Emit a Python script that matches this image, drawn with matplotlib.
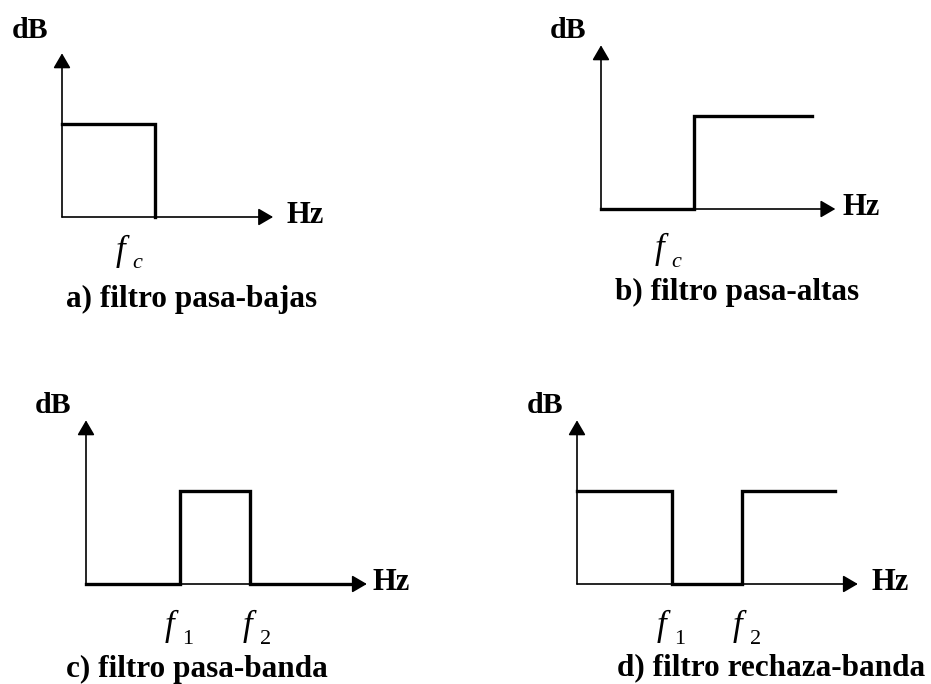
import matplotlib.pyplot as plt

plt.rcParams["font.family"] = "Liberation Serif"

# Respuestas ideales (frecuencia normalizada, ganancia normalizada)
freq_a = [0, 1.0, 1.0]
gain_a = [1, 1, 0]
freq_b = [0, 1.0, 1.0, 2.27]
gain_b = [0, 0, 1, 1]
freq_c = [0, 1.01, 1.01, 1.76, 1.76, 2.86]
gain_c = [0, 0, 1, 1, 0, 0]
freq_d = [0, 1.02, 1.02, 1.77, 1.77, 2.77]
gain_d = [1, 1, 0, 0, 1, 1]

titles = ["a) filtro pasa-bajas", "b) filtro pasa-altas",
          "c) filtro pasa-banda", "d) filtro rechaza-banda"]
subscripts = [["c"], ["c"], ["1", "2"], ["1", "2"]]

W, H = 931, 684
U = 93  # px por unidad
fig = plt.figure(figsize=(W / 100, H / 100), dpi=100)


def panel(ox, oy, freq, gain, xarrow, title, tpos, dbpos, hzx, subs, fxs, fy):
    x0, x1, y0, y1 = -0.8, 3.8, -1.1, 2.2
    ax = fig.add_axes([(ox + x0 * U) / W, (H - (oy - y0 * U)) / H,
                       (x1 - x0) * U / W, (y1 - y0) * U / H])
    ax.set_xlim(x0, x1)
    ax.set_ylim(y0, y1)
    ax.axis("off")
    arrow = dict(arrowstyle="-|>,head_length=0.6,head_width=0.35",
                 mutation_scale=15, lw=1.2, color="k", shrinkA=0, shrinkB=0)
    ax.annotate("", xy=(xarrow, 0), xytext=(0, 0), arrowprops=arrow)
    ax.annotate("", xy=(0, 1.76), xytext=(0, 0), arrowprops=arrow)
    ax.plot(freq, gain, color="k", lw=2.4, solid_joinstyle="miter")
    ax.text(dbpos[0], dbpos[1], "dB", fontsize=21.5, fontweight="bold",
            ha="center", va="center")
    ax.text(hzx, 0.02, "Hz", fontsize=22, fontweight="bold",
            ha="center", va="center")
    for sub, fx in zip(subs, fxs):
        ax.text(fx, fy, "f", fontsize=25, fontstyle="italic",
                ha="center", va="baseline")
        ax.text(fx + 0.13, fy - 0.09, sub, fontsize=16,
                fontstyle="italic" if sub == "c" else "normal",
                ha="left", va="baseline")
    ax.text(tpos[0], tpos[1], title, fontsize=22.5, fontweight="bold",
            ha="center", va="center")


panel(62, 217, freq_a, gain_a, 2.27, titles[0], (1.39, -0.89), (-0.34, 2.01),
      2.62, subscripts[0], [0.63], -0.46)
panel(601, 209, freq_b, gain_b, 2.52, titles[1], (1.46, -0.90), (-0.35, 1.92),
      2.80, subscripts[1], [0.63], -0.53)
panel(86, 584, freq_c, gain_c, 3.02, titles[2], (1.19, -0.92), (-0.35, 1.92),
      3.28, subscripts[2], [0.90, 1.74], -0.55)
panel(577, 584, freq_d, gain_d, 3.02, titles[3], (2.09, -0.90), (-0.34, 1.92),
      3.37, subscripts[3], [0.91, 1.73], -0.55)

fig.savefig("out.png", dpi=100)
